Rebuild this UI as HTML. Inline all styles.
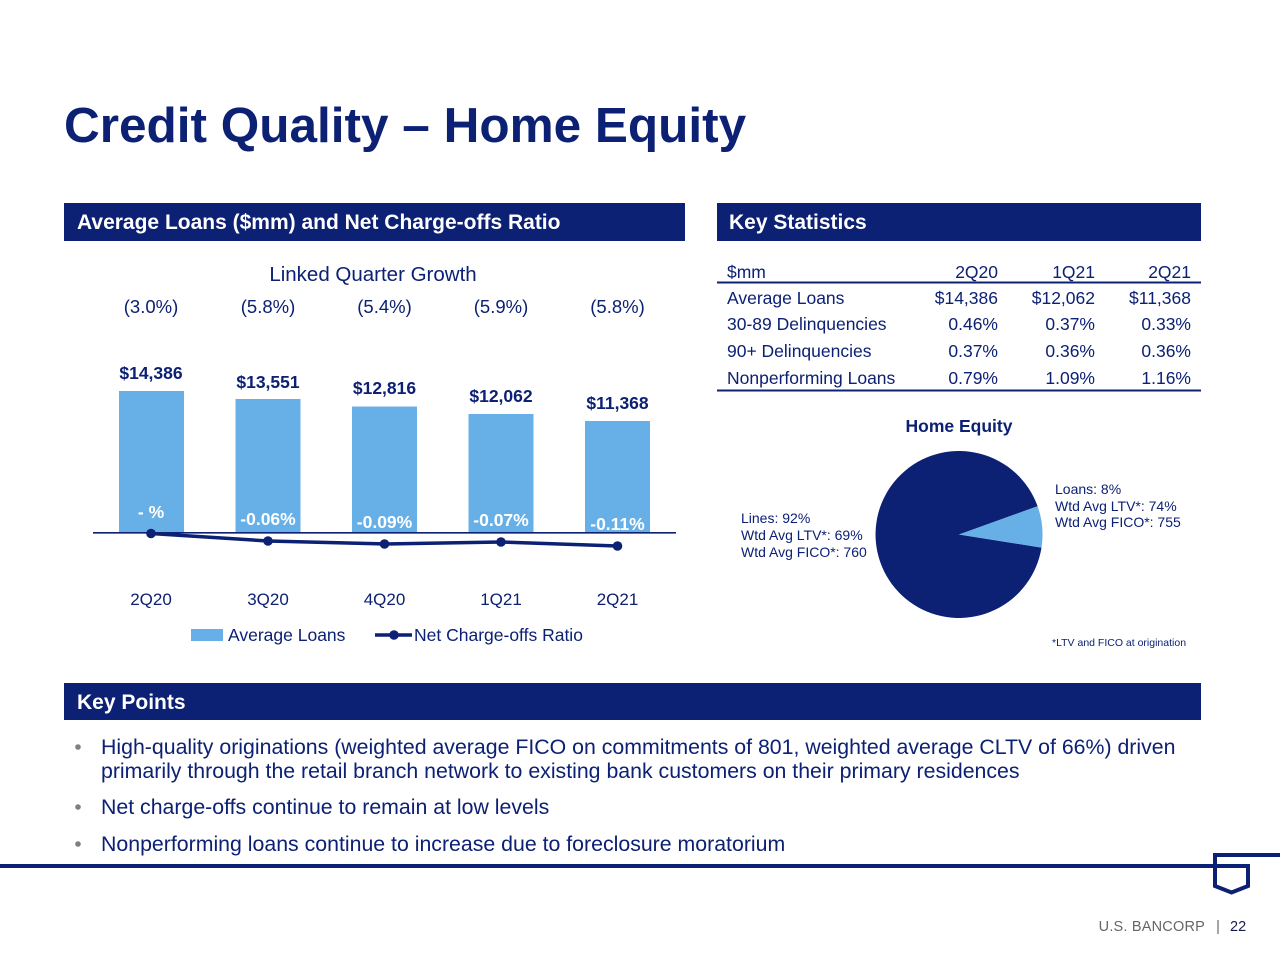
<!DOCTYPE html>
<html>
<head>
<meta charset="utf-8">
<style>
  html, body { margin: 0; padding: 0; background: #ffffff; }
  body { width: 1280px; height: 960px; overflow: hidden; }
  svg { display: block; }
  text { font-family: "Liberation Sans", Arial, sans-serif; }
</style>
</head>
<body>
<svg width="1280" height="960" viewBox="0 0 1280 960" xmlns="http://www.w3.org/2000/svg">
  <rect x="0" y="0" width="1280" height="960" fill="#ffffff"/>

  <!-- Title -->
  <text x="64" y="142" font-size="49.5" font-weight="bold" fill="#0c2074">Credit Quality – Home Equity</text>

  <!-- Section headers -->
  <rect x="64" y="203" width="621" height="38" fill="#0c2074"/>
  <text x="77" y="229" font-size="21" font-weight="bold" fill="#ffffff">Average Loans ($mm) and Net Charge-offs Ratio</text>

  <rect x="717" y="203" width="484" height="38" fill="#0c2074"/>
  <text x="729" y="229" font-size="21" font-weight="bold" fill="#ffffff">Key Statistics</text>

  <rect x="64" y="683" width="1137" height="37" fill="#0c2074"/>
  <text x="77" y="709" font-size="21" font-weight="bold" fill="#ffffff">Key Points</text>

  <!-- Bar chart -->
  <text x="373" y="281" font-size="20.5" fill="#0c2074" text-anchor="middle">Linked Quarter Growth</text>
  <g font-size="18.5" fill="#0c2074" text-anchor="middle">
    <text x="151" y="313">(3.0%)</text>
    <text x="268" y="313">(5.8%)</text>
    <text x="384.5" y="313">(5.4%)</text>
    <text x="501" y="313">(5.9%)</text>
    <text x="617.5" y="313">(5.8%)</text>
  </g>

  <g fill="#67b0e7">
    <rect x="119" y="391" width="65" height="141.5"/>
    <rect x="235.5" y="399" width="65" height="133.5"/>
    <rect x="352" y="406.5" width="65" height="126"/>
    <rect x="468.5" y="414" width="65" height="118.5"/>
    <rect x="585" y="421" width="65" height="111.5"/>
  </g>

  <g font-size="17.5" font-weight="bold" fill="#0c2074" text-anchor="middle">
    <text x="151" y="379">$14,386</text>
    <text x="268" y="388">$13,551</text>
    <text x="384.5" y="394">$12,816</text>
    <text x="501" y="402">$12,062</text>
    <text x="617.5" y="409">$11,368</text>
  </g>

  <g font-size="17.5" font-weight="bold" fill="#ffffff" text-anchor="middle">
    <text x="151" y="518">- %</text>
    <text x="268" y="525">-0.06%</text>
    <text x="384.5" y="528">-0.09%</text>
    <text x="501" y="526">-0.07%</text>
    <text x="617.5" y="530">-0.11%</text>
  </g>

  <line x1="93" y1="532.8" x2="676" y2="532.8" stroke="#0c2074" stroke-width="1.6"/>

  <polyline points="151,533.5 268,541 384.5,544 501,542 617.5,546" fill="none" stroke="#0c2074" stroke-width="3.5" stroke-linejoin="round"/>
  <g fill="#0c2074">
    <circle cx="151" cy="533.5" r="4.8"/>
    <circle cx="268" cy="541" r="4.8"/>
    <circle cx="384.5" cy="544" r="4.8"/>
    <circle cx="501" cy="542" r="4.8"/>
    <circle cx="617.5" cy="546" r="4.8"/>
  </g>

  <g font-size="17" fill="#0c2074" text-anchor="middle">
    <text x="151" y="605">2Q20</text>
    <text x="268" y="605">3Q20</text>
    <text x="384.5" y="605">4Q20</text>
    <text x="501" y="605">1Q21</text>
    <text x="617.5" y="605">2Q21</text>
  </g>

  <!-- Legend -->
  <rect x="191" y="629" width="32" height="12" fill="#67b0e7"/>
  <text x="228" y="641" font-size="17.5" fill="#0c2074">Average Loans</text>
  <line x1="375" y1="635" x2="412" y2="635" stroke="#0c2074" stroke-width="3.5"/>
  <circle cx="394" cy="635" r="4.8" fill="#0c2074"/>
  <text x="414" y="641" font-size="17.5" fill="#0c2074">Net Charge-offs Ratio</text>

  <!-- Key Statistics table -->
  <g font-size="17.5" fill="#0c2074">
    <text x="727" y="278">$mm</text>
    <text x="998" y="278" text-anchor="end">2Q20</text>
    <text x="1095" y="278" text-anchor="end">1Q21</text>
    <text x="1191" y="278" text-anchor="end">2Q21</text>

    <text x="727" y="304">Average Loans</text>
    <text x="998" y="304" text-anchor="end">$14,386</text>
    <text x="1095" y="304" text-anchor="end">$12,062</text>
    <text x="1191" y="304" text-anchor="end">$11,368</text>

    <text x="727" y="330">30-89 Delinquencies</text>
    <text x="998" y="330" text-anchor="end">0.46%</text>
    <text x="1095" y="330" text-anchor="end">0.37%</text>
    <text x="1191" y="330" text-anchor="end">0.33%</text>

    <text x="727" y="357">90+ Delinquencies</text>
    <text x="998" y="357" text-anchor="end">0.37%</text>
    <text x="1095" y="357" text-anchor="end">0.36%</text>
    <text x="1191" y="357" text-anchor="end">0.36%</text>

    <text x="727" y="384">Nonperforming Loans</text>
    <text x="998" y="384" text-anchor="end">0.79%</text>
    <text x="1095" y="384" text-anchor="end">1.09%</text>
    <text x="1191" y="384" text-anchor="end">1.16%</text>
  </g>
  <line x1="717" y1="282.5" x2="1201" y2="282.5" stroke="#0c2074" stroke-width="2"/>
  <line x1="717" y1="390.5" x2="1201" y2="390.5" stroke="#0c2074" stroke-width="2"/>

  <!-- Pie chart -->
  <text x="959" y="432" font-size="17.5" font-weight="bold" fill="#0c2074" text-anchor="middle">Home Equity</text>
  <path d="M959,534.5 L1041.5,547.6 A83.5,83.5 0 1 1 1037.6,506.2 Z" fill="#0c2074"/>
  <path d="M959,534.5 L1037.6,506.2 A83.5,83.5 0 0 1 1041.5,547.6 Z" fill="#67b0e7"/>

  <g font-size="14" fill="#0c2074">
    <text x="741" y="523">Lines: 92%</text>
    <text x="741" y="540">Wtd Avg LTV*: 69%</text>
    <text x="741" y="557">Wtd Avg FICO*: 760</text>
    <text x="1055" y="494">Loans: 8%</text>
    <text x="1055" y="511">Wtd Avg LTV*: 74%</text>
    <text x="1055" y="527">Wtd Avg FICO*: 755</text>
  </g>
  <text x="1052" y="646" font-size="10.5" fill="#0c2074">*LTV and FICO at origination</text>

  <!-- Key Points bullets -->
  <g fill="#808080">
    <circle cx="78" cy="747" r="2.8"/>
    <circle cx="78" cy="807" r="2.8"/>
    <circle cx="78" cy="844" r="2.8"/>
  </g>
  <g font-size="21.3" fill="#0c2074">
    <text x="101" y="754">High-quality originations (weighted average FICO on commitments of 801, weighted average CLTV of 66%) driven</text>
    <text x="101" y="778">primarily through the retail branch network to existing bank customers on their primary residences</text>
    <text x="101" y="814">Net charge-offs continue to remain at low levels</text>
    <text x="101" y="851">Nonperforming loans continue to increase due to foreclosure moratorium</text>
  </g>

  <!-- Footer line & logo -->
  <path d="M0,866 H1248 V886 L1231.5,892.5 L1215,886 V855 H1280" fill="none" stroke="#0c2074" stroke-width="4" stroke-linejoin="miter"/>

  <text x="1205" y="931" font-size="14.5" fill="#666666" text-anchor="end" letter-spacing="0.2">U.S. BANCORP</text>
  <text x="1218" y="931" font-size="14.5" fill="#666666" text-anchor="middle">|</text>
  <text x="1230" y="931" font-size="14.5" fill="#1a1a4a">22</text>
</svg>
</body>
</html>
